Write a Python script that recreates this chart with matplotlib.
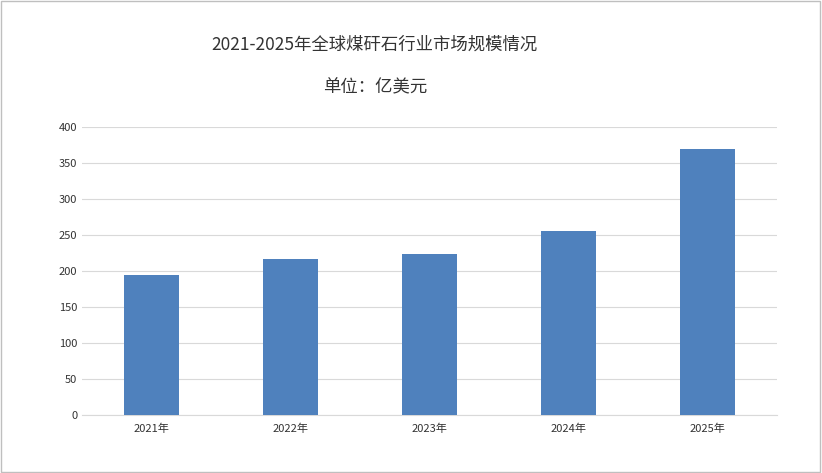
import matplotlib.pyplot as plt
from matplotlib.patches import Rectangle

plt.rcParams['font.family'] = ['Noto Sans CJK SC', 'DejaVu Sans']

years = ["2021年", "2022年", "2023年", "2024年", "2025年"]
values = [195, 217, 223, 256, 370]

fig = plt.figure(figsize=(8.22, 4.73), dpi=100)
ax = fig.add_axes([0.0998, 0.1226, 0.8455, 0.609])

ax.bar(range(len(years)), values, width=0.4, color="#4F81BD", zorder=3)
ax.set_xlim(-0.5, len(years) - 0.5)
ax.set_ylim(0, 400)
ax.set_yticks(range(0, 401, 50))
ax.set_xticks(range(len(years)))
ax.set_xticklabels(years)
ax.tick_params(axis='both', labelsize=8, colors="#333333", length=0)
ax.tick_params(axis='x', pad=6)
ax.grid(axis='y', color="#D9D9D9", linewidth=0.8, zorder=0)
for s in ["top", "right", "left"]:
    ax.spines[s].set_visible(False)
ax.spines["bottom"].set_color("#D9D9D9")

fig.text(0.456, 0.905, "2021-2025年全球煤矸石行业市场规模情况", ha="center", va="center",
         fontsize=12.5, color="#333333")
fig.text(0.456, 0.815, "单位：亿美元", ha="center", va="center", fontsize=12.5, color="#333333")

fig.patches.append(Rectangle((0.001, 0.002), 0.997, 0.996, transform=fig.transFigure,
                             fill=False, edgecolor="#BFBFBF", linewidth=1))

fig.savefig("out.png", dpi=100)
